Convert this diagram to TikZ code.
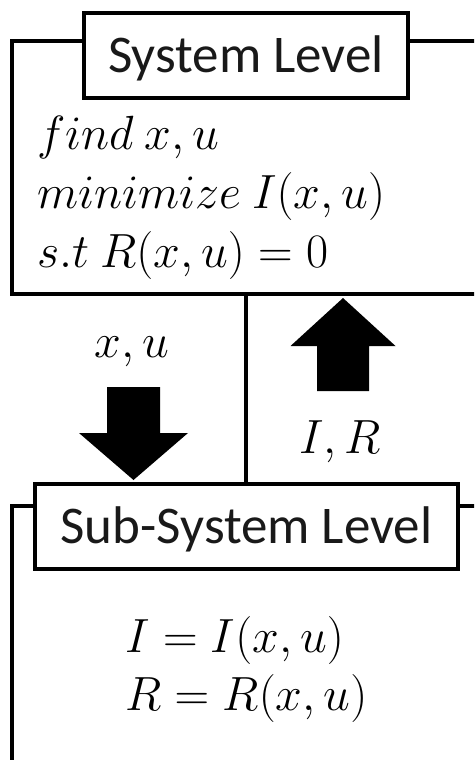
\RequirePackage{fix-cm}
\documentclass[tikz,border=0pt]{standalone}
\usepackage{amsmath}
\usepackage[no-math]{fontspec}
\setmainfont{Carlito}
\usepackage{tikz}
\usetikzlibrary{
  positioning
}
\definecolor{lvlink}{RGB}{0,0,0}
\definecolor{lvltext}{RGB}{25,25,25}
\tikzset{
  lvlFrame/.style={
    rectangle,
    draw=lvlink,
    fill=white,
    line width=4pt,
    inner sep=0pt,
    outer sep=0pt
  },
  lvlTitle/.style={
    rectangle,
    draw=lvlink,
    fill=white,
    line width=4pt,
    inner sep=0pt,
    outer sep=0pt,
    text=lvltext,
    text height=45pt,
    text depth=10pt,
    font=\fontsize{53}{60}\selectfont
  },
  lvlLink/.style={
    draw=lvlink,
    line width=4pt
  },
  blockArrow/.style={
    fill=lvlink
  },
  eqText/.style={
    inner sep=0pt,
    anchor=base west,
    font=\fontsize{48}{56}\selectfont
  }
}

\begin{document}
\begin{tikzpicture}[x=1pt,y=-1pt]
  \useasboundingbox (0,0) rectangle (474,760);
  \clip (0,0) rectangle (474,760);

  % system level
  \node[lvlFrame, anchor=north west, minimum width=478pt, minimum height=252.5pt]
    (sysFrame) at (12,41) {};
  \node[lvlTitle, minimum width=323.5pt, minimum height=84pt]
    (sysTitle) at (246,55.5) {System Level};
  \node[eqText] (sysFind) at (37,149) {$find\ x,u$};
  \node[eqText] (sysMin) at (37,208) {$minimize\ I(x,u)$};
  \node[eqText] (sysSubj) at (37,267) {$s.t\ R(x,u)=0$};

  % sub-system level
  \node[lvlFrame, anchor=north west, minimum width=478pt, minimum height=274pt]
    (subFrame) at (12,506) {};
  \node[lvlTitle, minimum width=423pt, minimum height=85pt]
    (subTitle) at (246.5,526) {Sub-System Level};
  \node[eqText] (subObj) at (125,652) {$I=I(x,u)$};
  \node[eqText] (subRes) at (125,710) {$R=R(x,u)$};

  % exchange between levels
  \draw[lvlLink] (sysFrame.south -| sysTitle.south) -- (subTitle.north -| sysTitle.south);

  \coordinate (downTip) at (133.5,480);
  \fill[blockArrow] (downTip) -- ++(54.5,-47) -- ++(-28,0) -- ++(0,-46)
    -- ++(-53,0) -- ++(0,46) -- ++(-28,0) -- cycle;
  \node[eqText, anchor=base] (downLabel) at (132,357) {$x,u$};

  \coordinate (upTip) at (343,298);
  \fill[blockArrow] (upTip) -- ++(52.5,48) -- ++(-26.5,0) -- ++(0,45)
    -- ++(-52,0) -- ++(0,-45) -- ++(-26.5,0) -- cycle;
  \node[eqText, anchor=base] (upLabel) at (340,453) {$I,R$};
\end{tikzpicture}
\end{document}
